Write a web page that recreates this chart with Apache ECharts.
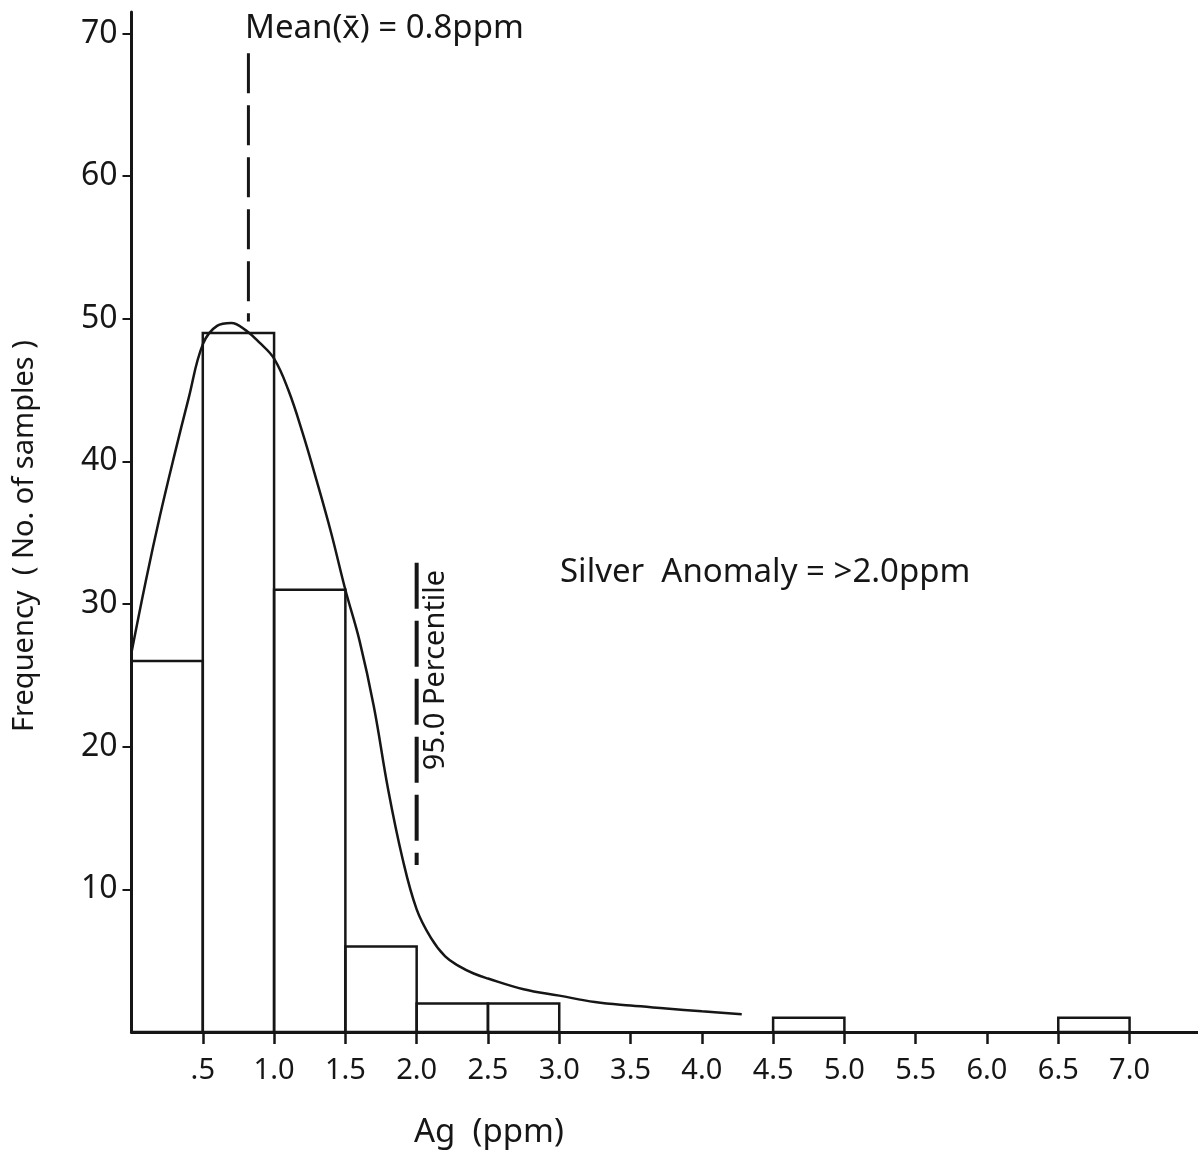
<!DOCTYPE html>
<html>
<head>
<meta charset="utf-8">
<script src="https://cdn.jsdelivr.net/npm/echarts@6/dist/echarts.min.js"></script>
<style>
  html, body { margin: 0; padding: 0; background: #fff; }
  #chart { width: 1198px; height: 1157px; }
</style>
</head>
<body>
<div id="chart"></div>
<script>
// histogram bins: [from, to, count]
const binStart = [0, 0.5, 1.0, 1.5, 2.0, 2.5, 4.5, 6.5];
const binEnd   = [0.5, 1.0, 1.5, 2.0, 2.5, 3.0, 5.0, 7.0];
const binCount = [26, 49, 31, 6, 2, 2, 1, 1];

// fitted curve
const curveX = [0, 0.1, 0.2, 0.3, 0.4, 0.5, 0.6, 0.7, 0.8, 0.9, 1.0, 1.1, 1.2, 1.3, 1.4, 1.5, 1.6, 1.7, 1.8, 1.9, 2.0, 2.1, 2.2, 2.3, 2.4, 2.5, 2.75, 3.0, 3.25, 3.5, 3.75, 4.0, 4.28];
const curveY = [26.6, 31.6, 36.2, 40.4, 44.4, 48.2, 49.5, 49.7, 49.2, 48.3, 47.2, 45.0, 42.0, 38.6, 35.0, 31.0, 27.4, 22.8, 17.0, 12.2, 8.6, 6.6, 5.3, 4.6, 4.1, 3.75, 3.0, 2.55, 2.1, 1.85, 1.65, 1.45, 1.25];

const meanX = 0.82, meanFrom = 49.8, meanTo = 68.6;
const pctX = 2.0, pctFrom = 11.7, pctTo = 32.9;

const xTicks = [0.5, 1.0, 1.5, 2.0, 2.5, 3.0, 3.5, 4.0, 4.5, 5.0, 5.5, 6.0, 6.5, 7.0];
const yTicks = [10, 20, 30, 40, 50, 60, 70];

const font = 'Noto Sans';
const ink = '#161616';

const chart = echarts.init(document.getElementById('chart'));

chart.setOption({
  backgroundColor: '#fff',
  animation: false,
  grid: { left: 131.5, right: 0, top: 12, bottom: 125 },
  xAxis: {
    type: 'value', min: 0, max: 7.48,
    axisLine: { lineStyle: { color: ink, width: 3 } },
    axisTick: { customValues: xTicks, length: 12, lineStyle: { color: ink, width: 2.5 } },
    axisLabel: {
      customValues: xTicks, margin: 24, color: ink, fontFamily: font, fontSize: 29,
      formatter: v => v === 0.5 ? '.5' : v.toFixed(1)
    },
    splitLine: { show: false }
  },
  yAxis: {
    type: 'value', min: 0, max: 71.5,
    name: 'Frequency  ( No. of samples )',
    nameLocation: 'middle', nameGap: 92, nameRotate: 90,
    nameTextStyle: { color: ink, fontFamily: font, fontSize: 29, padding: [0, 28, 0, 0] },
    axisLine: { lineStyle: { color: ink, width: 3 } },
    axisTick: { customValues: yTicks, length: 9, lineStyle: { color: ink, width: 2 } },
    axisLabel: { customValues: yTicks, margin: 14, color: ink, fontFamily: font, fontSize: 32 },
    splitLine: { show: false }
  },
  series: [
    {
      type: 'custom',
      data: binStart.map((s, i) => [s, binEnd[i], binCount[i]]),
      encode: { x: [0, 1], y: 2 },
      renderItem: (params, api) => {
        const p0 = api.coord([api.value(0), api.value(2)]);
        const p1 = api.coord([api.value(1), 0]);
        return {
          type: 'rect',
          shape: { x: p0[0], y: p0[1], width: p1[0] - p0[0], height: p1[1] - p0[1] },
          style: { fill: 'none', stroke: ink, lineWidth: 2.5 }
        };
      }
    },
    {
      type: 'line',
      data: curveX.map((x, i) => [x, curveY[i]]),
      smooth: 0.4, showSymbol: false,
      lineStyle: { color: ink, width: 2.5 }
    },
    {
      type: 'line',
      data: [[meanX, meanTo], [meanX, meanFrom]],
      showSymbol: false,
      lineStyle: { color: ink, width: 3, type: [40, 12] }
    },
    {
      type: 'line',
      data: [[pctX, pctTo], [pctX, pctFrom]],
      showSymbol: false,
      lineStyle: { color: ink, width: 4, type: [46, 12] }
    }
  ],
  graphic: [
    { type: 'text', left: 245, top: 12,
      style: { text: 'Mean(x\u0304) = 0.8ppm', fill: ink, font: '33px "' + font + '"' } },
    { type: 'text', left: 560, top: 556,
      style: { text: 'Silver  Anomaly = >2.0ppm', fill: ink, font: '33px "' + font + '"' } },
    { type: 'text', x: 436, y: 670, rotation: Math.PI / 2,
      style: { text: '95.0 Percentile', fill: ink, font: '29px "' + font + '"', align: 'center', verticalAlign: 'middle' } },
    { type: 'text', left: 414, top: 1116,
      style: { text: 'Ag  (ppm)', fill: ink, font: '33px "' + font + '"' } }
  ]
});
</script>
</body>
</html>
